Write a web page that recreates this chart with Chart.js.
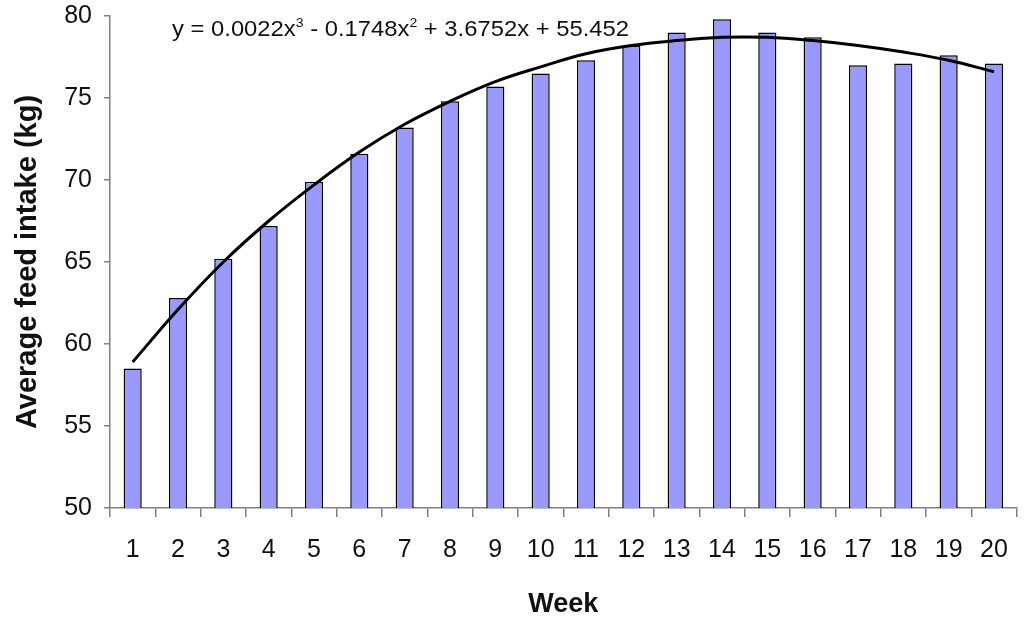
<!DOCTYPE html>
<html lang="en">
<head>
<meta charset="UTF-8">
<title>Average feed intake</title>
<style>
  html, body { margin: 0; padding: 0; background: #fff; }
  .chart-container { position: relative; width: 1026px; height: 623px; }
</style>
</head>
<body>
<div class="chart-container"><canvas id="myChart"></canvas></div>
<script src="https://cdn.jsdelivr.net/npm/chart.js@4.4.1/dist/chart.umd.min.js"></script>
<script>
// values
const weeks = ['1','2','3','4','5','6','7','8','9','10','11','12','13','14','15','16','17','18','19','20'];
const feedIntake = [58.5, 62.8, 65.2, 67.2, 69.9, 71.6, 73.2, 74.8, 75.7, 76.5, 77.3, 78.2, 79.0, 79.8, 79.0, 78.7, 77.0, 77.1, 77.6, 77.1];
const trendLine = [58.9, 62.1, 65.0, 67.5, 69.7, 71.7, 73.4, 74.8, 76.0, 76.9, 77.7, 78.2, 78.5, 78.7, 78.7, 78.5, 78.2, 77.8, 77.3, 76.6];
const yTicks = [50, 55, 60, 65, 70, 75, 80];
const equationParts = [
    ['y = 0.0022x', false], ['3', true], [' - 0.1748x', false], ['2', true], [' + 3.6752x + 55.452', false]
];

const tickFont = { family: "'Liberation Sans', Arial, sans-serif", size: 25 };
const axisGrey = '#808080';

// trendline equation written above the curve
const equationPlugin = {
    id: 'equation',
    afterDraw(chart) {
        const ctx = chart.ctx;
        const y = chart.scales.y;
        const x0 = chart.chartArea.left + 62;
        const base = y.getPixelForValue(80) + 20;
        const big = "22px 'Liberation Sans', Arial, sans-serif";
        const small = "13px 'Liberation Sans', Arial, sans-serif";
        ctx.save();
        let total = 0;
        equationParts.forEach(([t, sup]) => {
            ctx.font = sup ? small : big;
            total += ctx.measureText(t).width;
        });
        const sx = 457 / total;
        ctx.translate(x0, base);
        ctx.scale(sx, 1);
        ctx.fillStyle = '#111';
        ctx.textBaseline = 'alphabetic';
        let cx = 0;
        equationParts.forEach(([t, sup]) => {
            ctx.font = sup ? small : big;
            ctx.fillText(t, cx, sup ? -9 : 0);
            cx += ctx.measureText(t).width;
        });
        ctx.restore();
    }
};

const ctx = document.getElementById('myChart');

new Chart(ctx, {
    type: 'bar',
    data: {
        labels: weeks,
        datasets: [{
            type: 'line',
            data: trendLine,
            borderColor: '#000',
            borderWidth: 3,
            pointRadius: 0,
            tension: 0.4,
            fill: false,
            order: 0
        }, {
            data: feedIntake,
            backgroundColor: '#9999FF',
            borderColor: '#000',
            borderWidth: 1.5,
            barPercentage: 0.4,
            categoryPercentage: 1,
            order: 1
        }]
    },
    options: {
        responsive: true,
        maintainAspectRatio: false,
        animation: false,
        layout: { padding: { top: 16, right: 5, bottom: 0, left: 0 } },
        plugins: { legend: { display: false }, tooltip: { enabled: false } },
        scales: {
            x: {
                grid: { offset: true, drawOnChartArea: false, drawTicks: true, tickLength: 9, color: axisGrey, lineWidth: 1.5 },
                border: { color: axisGrey, width: 1.5 },
                ticks: { color: '#111', font: tickFont, padding: 18, maxRotation: 0 },
                title: {
                    display: true, text: 'Week', color: '#111',
                    font: { family: "'Liberation Sans', Arial, sans-serif", size: 27, weight: 'bold' },
                    padding: { top: 0, bottom: 2 }
                },
                afterFit(scale) { scale.height = 115; }
            },
            y: {
                min: 50, max: 80,
                afterBuildTicks(scale) { scale.ticks = yTicks.map(v => ({ value: v })); },
                grid: { drawOnChartArea: false, drawTicks: true, tickLength: 6, color: axisGrey, lineWidth: 1.5 },
                border: { color: axisGrey, width: 1.5 },
                ticks: { color: '#111', font: tickFont, padding: 12 },
                title: {
                    display: true, text: 'Average feed intake (kg)', color: '#111',
                    font: { family: "'Liberation Sans', Arial, sans-serif", size: 29, weight: 'bold' },
                    padding: { top: 11, bottom: 0 }
                },
                afterFit(scale) {
                    scale.width = 110;
                    scale.paddingTop = 0;
                    scale.paddingBottom = 0;
                }
            }
        }
    },
    plugins: [equationPlugin]
});
</script>
</body>
</html>
